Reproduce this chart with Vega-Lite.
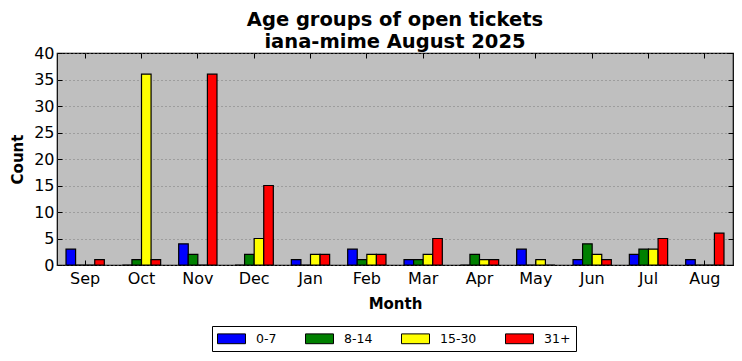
{
  "$schema": "https://vega.github.io/schema/vega-lite/v6.json",
  "width": 676,
  "height": 212,
  "autosize": {"type": "none"},
  "padding": {"left": 57, "top": 53, "right": 9, "bottom": 96},
  "background": "white",
  "title": {
    "text": ["Age groups of open tickets", "iana-mime August 2025"],
    "font": "DejaVu Sans",
    "fontSize": 19.5,
    "fontWeight": "bold",
    "color": "black",
    "lineHeight": 22,
    "offset": -10,
    "anchor": "middle"
  },
  "config": {
    "font": "DejaVu Sans",
    "view": {"fill": "#bfbfbf", "stroke": "black", "strokeWidth": 1.2},
    "axis": {
      "labelColor": "black",
      "titleColor": "black",
      "domain": false,
      "tickColor": "black",
      "labelFont": "DejaVu Sans",
      "titleFont": "DejaVu Sans"
    }
  },
  "data": {
    "values": [
      {"month": "Sep", "group": "0-7", "count": 3},
      {"month": "Sep", "group": "8-14", "count": 0},
      {"month": "Sep", "group": "15-30", "count": 0},
      {"month": "Sep", "group": "31+", "count": 1},
      {"month": "Oct", "group": "0-7", "count": 0},
      {"month": "Oct", "group": "8-14", "count": 1},
      {"month": "Oct", "group": "15-30", "count": 36},
      {"month": "Oct", "group": "31+", "count": 1},
      {"month": "Nov", "group": "0-7", "count": 4},
      {"month": "Nov", "group": "8-14", "count": 2},
      {"month": "Nov", "group": "15-30", "count": 0},
      {"month": "Nov", "group": "31+", "count": 36},
      {"month": "Dec", "group": "0-7", "count": 0},
      {"month": "Dec", "group": "8-14", "count": 2},
      {"month": "Dec", "group": "15-30", "count": 5},
      {"month": "Dec", "group": "31+", "count": 15},
      {"month": "Jan", "group": "0-7", "count": 1},
      {"month": "Jan", "group": "8-14", "count": 0},
      {"month": "Jan", "group": "15-30", "count": 2},
      {"month": "Jan", "group": "31+", "count": 2},
      {"month": "Feb", "group": "0-7", "count": 3},
      {"month": "Feb", "group": "8-14", "count": 1},
      {"month": "Feb", "group": "15-30", "count": 2},
      {"month": "Feb", "group": "31+", "count": 2},
      {"month": "Mar", "group": "0-7", "count": 1},
      {"month": "Mar", "group": "8-14", "count": 1},
      {"month": "Mar", "group": "15-30", "count": 2},
      {"month": "Mar", "group": "31+", "count": 5},
      {"month": "Apr", "group": "0-7", "count": 0},
      {"month": "Apr", "group": "8-14", "count": 2},
      {"month": "Apr", "group": "15-30", "count": 1},
      {"month": "Apr", "group": "31+", "count": 1},
      {"month": "May", "group": "0-7", "count": 3},
      {"month": "May", "group": "8-14", "count": 0},
      {"month": "May", "group": "15-30", "count": 1},
      {"month": "May", "group": "31+", "count": 0},
      {"month": "Jun", "group": "0-7", "count": 1},
      {"month": "Jun", "group": "8-14", "count": 4},
      {"month": "Jun", "group": "15-30", "count": 2},
      {"month": "Jun", "group": "31+", "count": 1},
      {"month": "Jul", "group": "0-7", "count": 2},
      {"month": "Jul", "group": "8-14", "count": 3},
      {"month": "Jul", "group": "15-30", "count": 3},
      {"month": "Jul", "group": "31+", "count": 5},
      {"month": "Aug", "group": "0-7", "count": 1},
      {"month": "Aug", "group": "8-14", "count": 0},
      {"month": "Aug", "group": "15-30", "count": 0},
      {"month": "Aug", "group": "31+", "count": 6}
    ]
  },
  "layer": [
    {
      "mark": {"type": "bar", "stroke": "black", "strokeWidth": 1.2, "opacity": 1},
      "encoding": {
        "x": {
          "field": "month",
          "type": "nominal",
          "sort": ["Sep", "Oct", "Nov", "Dec", "Jan", "Feb", "Mar", "Apr", "May", "Jun", "Jul", "Aug"],
          "scale": {"paddingInner": 0.32, "paddingOuter": 0.16},
          "axis": {
            "orient": "bottom",
            "title": "Month",
            "titleFontSize": 15,
            "titleFontWeight": "bold",
            "titlePadding": 10,
            "labelFontSize": 16,
            "labelAngle": 0,
            "tickSize": -5,
            "labelPadding": 10,
            "grid": false
          }
        },
        "xOffset": {
          "field": "group",
          "type": "nominal",
          "sort": ["0-7", "8-14", "15-30", "31+"],
          "scale": {"paddingInner": 0, "paddingOuter": 0}
        },
        "y": {
          "field": "count",
          "type": "quantitative",
          "scale": {"domain": [0, 40], "nice": false},
          "axis": {
            "orient": "left",
            "title": "Count",
            "titleFontSize": 15,
            "titleFontWeight": "bold",
            "titlePadding": 8,
            "labelFontSize": 16,
            "values": [0, 5, 10, 15, 20, 25, 30, 35, 40],
            "tickSize": -5,
            "labelPadding": 8,
            "grid": true,
            "gridColor": "#7a7a7a",
            "gridDash": [1, 3],
            "gridWidth": 1
          }
        },
        "color": {
          "field": "group",
          "type": "nominal",
          "sort": ["0-7", "8-14", "15-30", "31+"],
          "scale": {"domain": ["0-7", "8-14", "15-30", "31+"], "range": ["#0000ff", "#008000", "#ffff00", "#ff0000"]},
          "legend": {
            "title": null,
            "orient": "none",
            "legendX": 155,
            "legendY": 273,
            "direction": "horizontal",
            "strokeColor": "black",
            "fillColor": "white",
            "padding": 5,
            "columnPadding": 26,
            "symbolType": "M-2,-0.7H2V0.7H-2Z",
            "symbolSize": 196,
            "symbolOffset": 7,
            "symbolStrokeColor": "black",
            "symbolStrokeWidth": 1,
            "symbolOpacity": 1,
            "labelFontSize": 12.5,
            "labelColor": "black",
            "labelOffset": 17,
            "labelFont": "DejaVu Sans"
          }
        }
      }
    },
    {
      "mark": {"type": "bar", "opacity": 0},
      "encoding": {
        "x": {
          "field": "month",
          "type": "nominal",
          "sort": ["Sep", "Oct", "Nov", "Dec", "Jan", "Feb", "Mar", "Apr", "May", "Jun", "Jul", "Aug"],
          "axis": {"orient": "top", "title": null, "labels": false, "tickSize": -5, "grid": false}
        },
        "y": {
          "field": "count",
          "type": "quantitative",
          "axis": {"orient": "right", "title": null, "labels": false, "tickSize": -5, "values": [0, 5, 10, 15, 20, 25, 30, 35, 40], "grid": false}
        }
      }
    }
  ],
  "resolve": {"axis": {"x": "independent", "y": "independent"}}
}
